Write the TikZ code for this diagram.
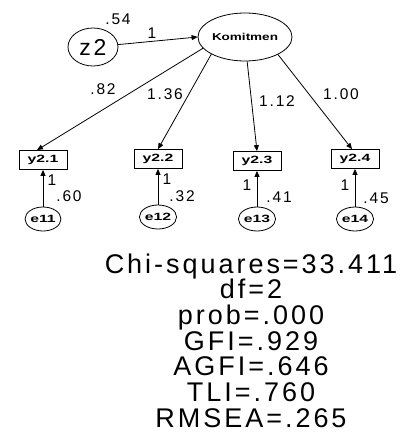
\documentclass[tikz,border=0pt]{standalone}
\usepackage{fontspec}
\setmainfont{Liberation Sans}
\newfontfamily\statfont{Liberation Sans}[LetterSpace=11]
\newfontfamily\lblfont{Liberation Sans}[LetterSpace=12]
\usetikzlibrary{arrows.meta,shapes.geometric}
\begin{document}
\begin{tikzpicture}[x=1pt,y=-1pt,line width=0.8pt,
  lat/.style={draw,ellipse,minimum width=94pt,minimum height=48pt,inner sep=0pt,
    font=\bfseries\fontsize{10}{10}\selectfont},
  zcirc/.style={draw,ellipse,minimum width=50pt,minimum height=38pt,inner sep=0pt,
    font=\lblfont\fontsize{23}{23}\selectfont},
  obs/.style={draw,rectangle,minimum width=48pt,minimum height=19pt,inner sep=0pt,
    font=\bfseries\fontsize{10.5}{10.5}\selectfont},
  err/.style={draw,ellipse,minimum width=34pt,minimum height=24pt,inner sep=0pt,
    font=\bfseries\fontsize{10.5}{10.5}\selectfont},
  lbl/.style={inner sep=0pt,font=\lblfont\fontsize{15.5}{15.5}\selectfont},
  stat/.style={inner sep=0pt,anchor=base,font=\statfont\fontsize{27}{27}\selectfont},
  arr/.style={-{Triangle[length=6pt,width=5pt]}}]
\useasboundingbox (0,0) rectangle (408,433);

% latent and disturbance
\node[lat] (K) at (245,37) {\scalebox{1.35}[1]{Komitmen}};
\node[zcirc] (z2) at (93,47) {z2};
\draw[arr] (z2) -- (K.west);
\node[lbl] (l54) at (118,19) {.54};
\node[lbl] (l1z) at (152,33) {1};

% observed variables
\node[obs] (y21) at (43,160) {\scalebox{1.5}[1]{y2.1}};
\node[obs] (y22) at (158,159) {\scalebox{1.5}[1]{y2.2}};
\node[obs] (y23) at (257,161) {\scalebox{1.5}[1]{y2.3}};
\node[obs] (y24) at (355,159) {\scalebox{1.5}[1]{y2.4}};

\draw[arr] (K.195) -- ([xshift=-6pt]y21.north);
\draw[arr] (K.207) -- (y22.north);
\draw[arr] (K.275) -- (y23.north);
\draw[arr] (K.332) -- ([xshift=-3pt]y24.north);

\node[lbl] (l82) at (103,89) {.82};
\node[lbl] (l136) at (165,94) {1.36};
\node[lbl] (l112) at (277,101) {1.12};
\node[lbl] (l100) at (341,94) {1.00};

% error terms
\node[err] (e11) at (43,219) {\scalebox{1.5}[1]{e11}};
\node[err] (e12) at (158,217) {\scalebox{1.5}[1]{e12}};
\node[err] (e13) at (257,219) {\scalebox{1.5}[1]{e13}};
\node[err] (e14) at (355,219) {\scalebox{1.5}[1]{e14}};

\draw[arr] (e11) -- (y21);
\draw[arr] (e12) -- (y22);
\draw[arr] (e13) -- (y23);
\draw[arr] (e14) -- (y24);

\node[lbl] (o11) at (52,180) {1};
\node[lbl] (o12) at (167,179) {1};
\node[lbl] (o13) at (247,185) {1};
\node[lbl] (o14) at (345,185) {1};
\node[lbl] (v11) at (69,196) {.60};
\node[lbl] (v12) at (182,196) {.32};
\node[lbl] (v13) at (279,197) {.41};
\node[lbl] (v14) at (376,198) {.45};

% fit statistics
\node[stat] (s1) at (251,273) {Chi-squares=33.411};
\node[stat] (s2) at (251,298.7) {df=2};
\node[stat] (s3) at (251,324.4) {prob=.000};
\node[stat] (s4) at (251,350.1) {GFI=.929};
\node[stat] (s5) at (251,375.8) {AGFI=.646};
\node[stat] (s6) at (251,401.5) {TLI=.760};
\node[stat] (s7) at (251,427.2) {RMSEA=.265};
\end{tikzpicture}
\end{document}
